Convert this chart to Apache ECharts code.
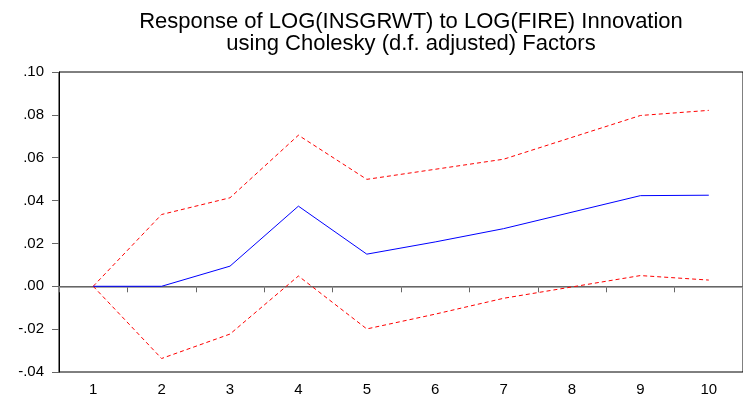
<!DOCTYPE html>
<html>
<head>
<meta charset="utf-8">
<script src="https://cdn.jsdelivr.net/npm/echarts@6/dist/echarts.min.js"></script>
<style>
html,body{margin:0;padding:0;background:#fff;}
#chart{width:743px;height:397px;}
</style>
</head>
<body>
<div id="chart"></div>
<script>
var periods = ['1','2','3','4','5','6','7','8','9','10'];
var response = [0, 0, 0.0094, 0.0374, 0.0150, 0.0207, 0.0269, 0.0346, 0.0423, 0.0425];
var upperBand = [0, 0.0335, 0.0413, 0.0705, 0.0499, 0.0546, 0.0593, 0.0695, 0.0797, 0.0821];
var lowerBand = [0, -0.0337, -0.0223, 0.0048, -0.0199, -0.0130, -0.0056, -0.0003, 0.0050, 0.0029];

var myChart = echarts.init(document.getElementById('chart'));

var option = {
  animation: false,
  backgroundColor: '#fff',
  title: {
    text: 'Response of LOG(INSGRWT) to LOG(FIRE) Innovation\nusing Cholesky (d.f. adjusted) Factors',
    left: 406,
    top: 6,
    textAlign: 'center',
    textStyle: {
      fontFamily: 'Liberation Sans, Arial',
      fontSize: 22,
      fontWeight: 'normal',
      color: '#000',
      lineHeight: 22
    }
  },
  grid: {
    left: 59,
    right: -9,
    top: 72,
    bottom: 23,
    show: true,
    borderColor: '#000',
    borderWidth: 1
  },
  xAxis: {
    type: 'category',
    data: periods,
    boundaryGap: true,
    axisLine: { lineStyle: { color: '#000', width: 1 } },
    axisTick: { show: true, length: 6, lineStyle: { color: '#666' } },
    axisLabel: { color: '#000', fontSize: 15, fontFamily: 'Liberation Sans, Arial', margin: 10 },
    splitLine: { show: false }
  },
  yAxis: {
    type: 'value',
    min: -0.04,
    max: 0.10,
    interval: 0.02,
    axisLine: { show: true, lineStyle: { color: '#000', width: 1 } },
    axisTick: { show: true, length: 7, lineStyle: { color: '#666' } },
    axisLabel: {
      color: '#000',
      fontSize: 15,
      fontFamily: 'Liberation Sans, Arial',
      margin: 15,
      formatter: function (v) {
        var s = Math.abs(v).toFixed(2).replace(/^0/, '');
        return (v < -1e-9 ? '-' : '') + s;
      }
    },
    splitLine: { show: false }
  },
  series: [
    {
      name: 'upper',
      type: 'line',
      data: upperBand,
      symbol: 'none',
      lineStyle: { color: '#ff0000', width: 1, type: [4, 3] },
      z: 3
    },
    {
      name: 'lower',
      type: 'line',
      data: lowerBand,
      symbol: 'none',
      lineStyle: { color: '#ff0000', width: 1, type: [4, 3] },
      z: 3
    },
    {
      name: 'response',
      type: 'line',
      data: response,
      symbol: 'none',
      lineStyle: { color: '#0000ff', width: 1 },
      z: 4,
      markLine: {
        silent: true,
        symbol: 'none',
        label: { show: false },
        lineStyle: { color: '#888', width: 1.5, type: 'solid' },
        data: [{ yAxis: 0 }],
        z: 2
      }
    }
  ]
};
myChart.setOption(option);
</script>
</body>
</html>
